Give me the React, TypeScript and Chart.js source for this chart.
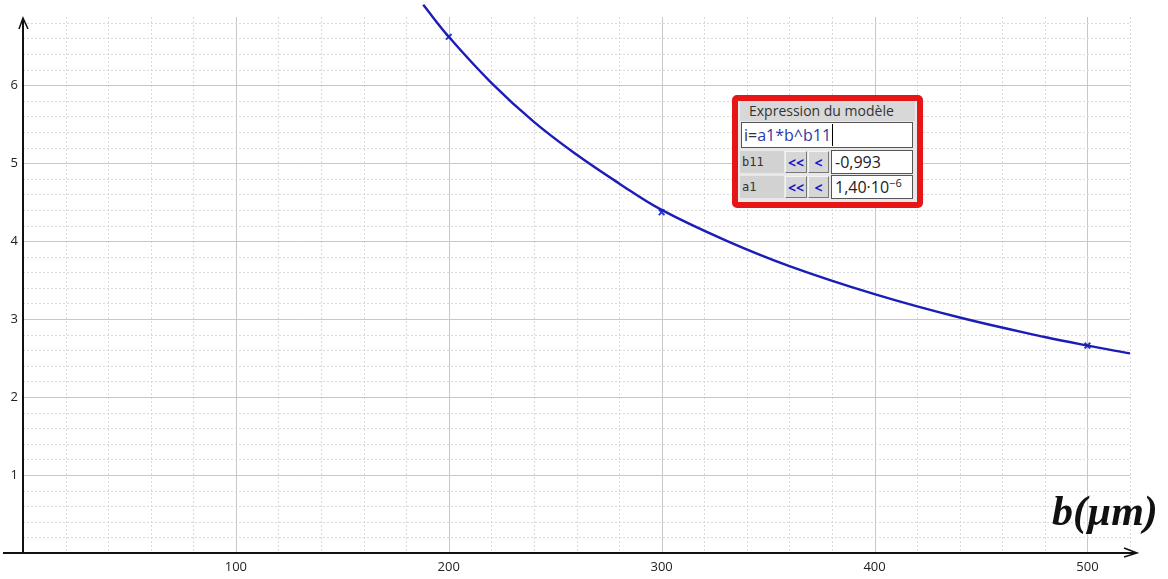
import React, { useEffect, useRef } from "react";
import { Chart, registerables } from "chart.js";

Chart.register(...registerables);

// Measured points (b in µm, i)
const measuredB = [200, 300, 500];
const measuredI = [6.62, 4.37, 2.66];

// Model curve
const modelB = [188, 200, 220, 240, 260, 280, 300, 330, 360, 400, 440, 480, 500, 520];
const modelI = [7.03, 6.62, 6.03, 5.53, 5.11, 4.74, 4.4, 4.01, 3.68, 3.32, 3.02, 2.77, 2.66, 2.56];

// Axis ticks
const xTicks = [100, 200, 300, 400, 500];
const yTicks = [1, 2, 3, 4, 5, 6];
const xMinorStep = 20;
const yMinorStep = 0.2;
const xMax = 520;
const yMax = 6.9;

const gridPlugin = {
  id: "customGrid",
  beforeDatasetsDraw(chart: any) {
    const { ctx, chartArea, scales } = chart;
    const xs = scales.x;
    const ys = scales.y;
    ctx.save();
    ctx.lineWidth = 1;
    for (let v = xMinorStep; v <= xMax; v += xMinorStep) {
      const px = Math.round(xs.getPixelForValue(v)) + 0.5;
      const major = xTicks.includes(v);
      ctx.strokeStyle = major ? "#c8c8c8" : "#d9d9d9";
      ctx.setLineDash(major ? [] : [2, 2]);
      ctx.beginPath();
      ctx.moveTo(px, chartArea.top + 2);
      ctx.lineTo(px, chartArea.bottom);
      ctx.stroke();
    }
    for (let k = 1; k * yMinorStep <= yMax; k++) {
      const v = +(k * yMinorStep).toFixed(2);
      const py = Math.round(ys.getPixelForValue(v)) + 0.5;
      const major = Math.abs(v - Math.round(v)) < 1e-6;
      ctx.strokeStyle = major ? "#c8c8c8" : "#d9d9d9";
      ctx.setLineDash(major ? [] : [2, 2]);
      ctx.beginPath();
      ctx.moveTo(chartArea.left, py);
      ctx.lineTo(chartArea.right, py);
      ctx.stroke();
    }
    ctx.restore();
  },
  afterDraw(chart: any) {
    const { ctx, chartArea } = chart;
    const x0 = chartArea.left;
    const y0 = chartArea.bottom;
    ctx.save();
    ctx.setLineDash([]);
    ctx.strokeStyle = "#111";
    ctx.lineWidth = 2;
    ctx.beginPath();
    ctx.moveTo(3, y0);
    ctx.lineTo(1136, y0);
    ctx.stroke();
    ctx.lineWidth = 1.5;
    ctx.beginPath();
    ctx.moveTo(1124, y0 - 5);
    ctx.lineTo(1137, y0);
    ctx.lineTo(1124, y0 + 4);
    ctx.stroke();
    ctx.lineWidth = 2;
    ctx.beginPath();
    ctx.moveTo(x0, y0);
    ctx.lineTo(x0, 19);
    ctx.stroke();
    ctx.lineWidth = 1.5;
    ctx.beginPath();
    ctx.moveTo(x0 - 4, 29);
    ctx.lineTo(x0, 18);
    ctx.lineTo(x0 + 5, 29);
    ctx.stroke();
    ctx.restore();
  },
};

export default function App() {
  const ref = useRef<HTMLCanvasElement | null>(null);

  useEffect(() => {
    if (!ref.current) return;
    const chart = new Chart(ref.current, {
      type: "line",
      data: {
        datasets: [
          {
            label: "modèle",
            data: modelB.map((b, i) => ({ x: b, y: modelI[i] })),
            borderColor: "#1c1cb8",
            borderWidth: 2.4,
            pointRadius: 0,
            tension: 0.4,
            fill: false,
            clip: { left: 0, top: 12, right: 0, bottom: 0 } as any,
          },
          {
            label: "mesures",
            data: measuredB.map((b, i) => ({ x: b, y: measuredI[i] })),
            showLine: false,
            borderColor: "#2a3ad8",
            backgroundColor: "#2a3ad8",
            pointStyle: "crossRot",
            pointRadius: 4,
            borderWidth: 2,
          },
        ],
      },
      options: {
        responsive: false,
        animation: false,
        events: [],
        layout: { padding: { top: 15, right: 38, left: 0, bottom: 0 } },
        plugins: {
          legend: { display: false },
          tooltip: { enabled: false },
        },
        scales: {
          x: {
            type: "linear",
            min: 0,
            max: xMax,
            grid: { display: false, drawTicks: false },
            border: { display: false },
            afterFit: (s: any) => {
              s.height = 26;
            },
            afterBuildTicks: (s: any) => {
              s.ticks = xTicks.map((v) => ({ value: v }));
            },
            ticks: {
              padding: 6,
              color: "#222",
              font: { family: "'Open Sans', sans-serif", size: 13 },
              maxRotation: 0,
            },
          },
          y: {
            type: "linear",
            min: 0,
            max: yMax,
            grid: { display: false, drawTicks: false },
            border: { display: false },
            afterFit: (s: any) => {
              s.width = 23;
            },
            afterBuildTicks: (s: any) => {
              s.ticks = yTicks.map((v) => ({ value: v }));
            },
            ticks: {
              padding: 5,
              color: "#222",
              font: { family: "'Open Sans', sans-serif", size: 13 },
            },
          },
        },
      },
      plugins: [gridPlugin],
    });
    return () => chart.destroy();
  }, []);

  const cellFont = "'Open Sans', 'DejaVu Sans', sans-serif";
  const btn: React.CSSProperties = {
    position: "absolute",
    background: "#d6d6d6",
    borderTop: "1px solid #f4f4f4",
    borderLeft: "1px solid #f4f4f4",
    borderRight: "1px solid #777",
    borderBottom: "1px solid #777",
    color: "#1414c8",
    fontWeight: 700,
    fontSize: 14,
    textAlign: "center",
    lineHeight: "21px",
    boxSizing: "border-box",
    fontFamily: cellFont,
  };
  const val: React.CSSProperties = {
    position: "absolute",
    background: "#fff",
    border: "1px solid #555",
    boxSizing: "border-box",
    fontSize: 16,
    lineHeight: "23px",
    paddingLeft: 3,
    color: "#222",
    fontFamily: cellFont,
  };
  const lab: React.CSSProperties = {
    position: "absolute",
    background: "#d2d2d2",
    fontSize: 12,
    lineHeight: "22px",
    paddingLeft: 2,
    color: "#333",
    boxSizing: "border-box",
    fontFamily: "'DejaVu Sans Mono', monospace",
  };

  return (
    <div
      style={{
        position: "fixed",
        left: 0,
        top: 0,
        width: 1168,
        height: 579,
        background: "#fff",
        overflow: "hidden",
      }}
    >
      <canvas ref={ref} width={1168} height={579} style={{ display: "block" }} />
      <div
        style={{
          position: "absolute",
          left: 732,
          top: 95,
          width: 191,
          height: 113,
          border: "6px solid #e61616",
          borderRadius: 5,
          background: "#e8e8e8",
          boxSizing: "border-box",
        }}
      >
        <div
          style={{
            position: "absolute",
            left: 2,
            top: 0,
            right: 2,
            height: 20,
            background: "#d8d8d8",
            fontFamily: cellFont,
            fontSize: 14,
            lineHeight: "20px",
            color: "#333",
            paddingLeft: 9,
          }}
        >
          Expression du modèle
        </div>
        <div
          style={{
            position: "absolute",
            left: 3,
            top: 21,
            width: 172,
            height: 26,
            background: "#fff",
            border: "1px solid #555",
            boxSizing: "border-box",
            fontFamily: cellFont,
            fontSize: 16,
            lineHeight: "24px",
            paddingLeft: 2,
            color: "#2b3aa6",
            whiteSpace: "nowrap",
          }}
        >
          <span style={{ color: "#333" }}>i=</span>a1*b^b11
          <span style={{ borderLeft: "1px solid #000", marginLeft: 1 }}>&#8203;</span>
        </div>
        <div style={{ ...lab, left: 2, top: 50, width: 44, height: 22 }}>b11</div>
        <div style={{ ...btn, left: 47, top: 50, width: 22, height: 22 }}>&lt;&lt;</div>
        <div style={{ ...btn, left: 70, top: 50, width: 21, height: 22 }}>&lt;</div>
        <div style={{ ...val, left: 93, top: 49, width: 82, height: 24 }}>-0,993</div>
        <div style={{ ...lab, left: 2, top: 75, width: 44, height: 22 }}>a1</div>
        <div style={{ ...btn, left: 47, top: 75, width: 22, height: 22 }}>&lt;&lt;</div>
        <div style={{ ...btn, left: 70, top: 75, width: 21, height: 22 }}>&lt;</div>
        <div style={{ ...val, left: 93, top: 74, width: 82, height: 24, whiteSpace: "nowrap" }}>
          1,40·10<sup style={{ fontSize: 11, lineHeight: 0 }}>−6</sup>
        </div>
      </div>
      <div
        style={{
          position: "absolute",
          left: 1052,
          top: 486,
          fontFamily: "'Liberation Serif', serif",
          fontStyle: "italic",
          fontWeight: 700,
          fontSize: 42,
          lineHeight: "50px",
          color: "#111",
          whiteSpace: "nowrap",
        }}
      >
        b(µm)
      </div>
    </div>
  );
}
